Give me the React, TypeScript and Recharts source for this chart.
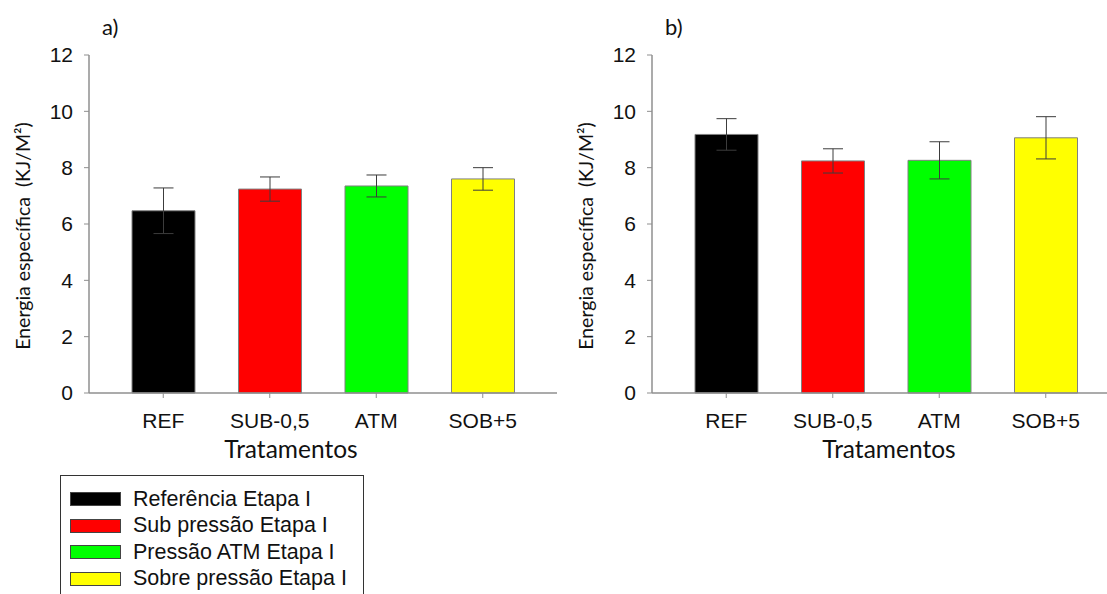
import { BarChart, Bar, XAxis, YAxis, Cell, ErrorBar } from "recharts";

// Tratamentos
const categories = ["REF", "SUB-0,5", "ATM", "SOB+5"];

// painel a) Etapa I
const valuesA = [6.47, 7.24, 7.35, 7.6];
const errorsA = [0.81, 0.43, 0.39, 0.4];

// painel b)
const valuesB = [9.18, 8.24, 8.26, 9.06];
const errorsB = [0.56, 0.43, 0.66, 0.75];

const yTicks = [0, 2, 4, 6, 8, 10, 12];
const barColors = ["#000000", "#ff0000", "#00ff00", "#ffff00"];
const legendLabels = [
    "Referência Etapa I",
    "Sub pressão Etapa I",
    "Pressão ATM Etapa I",
    "Sobre pressão Etapa I",
];

const AXIS = "#8f8f8f";
const TICK_FONT = "'Liberation Sans', Arial, sans-serif";
const TITLE_FONT = "Lato, 'Open Sans', sans-serif";

type PanelProps = {
    values: number[];
    errors: number[];
    tag: string;
    left: number;
    titleDx: number;
};

function Panel({ values, errors, tag, left, titleDx }: PanelProps) {
    const data = categories.map((name, i) => ({ name, value: values[i], err: errors[i] }));

    return (
        <div style={{ position: "absolute", left, top: 0 }}>
            <div style={{ position: "absolute", left: 102, top: 16, fontFamily: TITLE_FONT, fontSize: 22, lineHeight: 1, color: "#111" }}>
                {tag}
            </div>
            <BarChart width={600} height={470} data={data} margin={{ top: 55, right: 43, left: 0, bottom: 17 }}>
                <XAxis
                    dataKey="name"
                    interval={0}
                    padding={{ left: 21, right: 21 }}
                    height={60}
                    tickSize={5}
                    tickMargin={15}
                    axisLine={{ stroke: AXIS, strokeWidth: 1.5 }}
                    tickLine={{ stroke: AXIS }}
                    tick={{ fill: "#111", fontSize: 21, fontFamily: TICK_FONT }}
                    label={(props: any) => {
                        const vb = props.viewBox;
                        return (
                            <text x={vb.x + titleDx} y={vb.y + 65} textAnchor="middle" fill="#111" fontSize={24.5} fontFamily={TITLE_FONT}>
                                Tratamentos
                            </text>
                        );
                    }}
                />
                <XAxis xAxisId="top" dataKey="name" orientation="top" height={0} tick={false} tickLine={false} axisLine={{ stroke: AXIS, strokeWidth: 1.5 }} />
                <YAxis
                    domain={[0, 12]}
                    ticks={yTicks}
                    width={89}
                    tickSize={5}
                    tickMargin={11}
                    axisLine={{ stroke: AXIS, strokeWidth: 1.5 }}
                    tickLine={{ stroke: AXIS }}
                    tick={{ fill: "#111", fontSize: 21, fontFamily: TICK_FONT }}
                    label={(props: any) => {
                        const vb = props.viewBox;
                        const x = 22;
                        const y = vb.y + vb.height / 2 + 12;
                        return (
                            <text x={x} y={y} transform={`rotate(-90, ${x}, ${y})`} textAnchor="middle" dominantBaseline="central" fill="#111" fontSize={19.5} fontFamily={TITLE_FONT} style={{ whiteSpace: "pre" }}>
                                {"Energia específica  (KJ/M²)"}
                            </text>
                        );
                    }}
                />
                <YAxis yAxisId="right" orientation="right" domain={[0, 12]} width={0} tick={false} tickLine={false} axisLine={{ stroke: AXIS, strokeWidth: 1.5 }} />
                <Bar dataKey="value" barSize={63} stroke="#808080" strokeWidth={1} isAnimationActive={false}>
                    {data.map((d, i) => (
                        <Cell key={d.name} fill={barColors[i]} />
                    ))}
                    <ErrorBar dataKey="err" direction="y" width={10} stroke="#3c3c3c" strokeWidth={1} isAnimationActive={false} />
                </Bar>
            </BarChart>
        </div>
    );
}

export default function App() {
    return (
        <div style={{ position: "absolute", left: 0, top: 0, width: 1107, height: 594, overflow: "hidden", background: "#fff" }}>
            <Panel values={valuesA} errors={errorsA} tag="a)" left={0} titleDx={202} />
            <Panel values={valuesB} errors={errorsB} tag="b)" left={563} titleDx={237} />

            {/* Legenda */}
            <div style={{ position: "absolute", left: 60, top: 475, width: 302, height: 140, border: "1px solid #333", background: "#fff" }}>
                {legendLabels.map((label, i) => (
                    <div key={label} style={{ position: "absolute", left: 9, top: 16 + i * 26.5, height: 14, display: "flex", alignItems: "center" }}>
                        <div style={{ width: 49, height: 12, background: barColors[i], border: "1px solid #444" }} />
                        <span style={{ marginLeft: 12, fontFamily: TICK_FONT, fontSize: 21.5, color: "#111", whiteSpace: "nowrap" }}>{label}</span>
                    </div>
                ))}
            </div>
        </div>
    );
}
